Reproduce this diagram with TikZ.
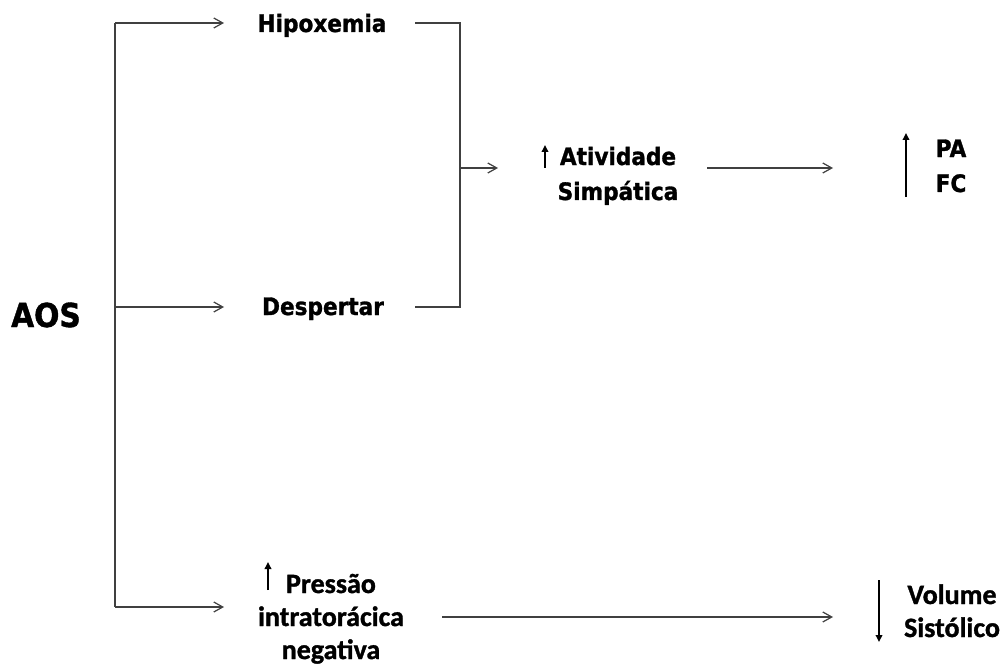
\documentclass[tikz,border=0pt]{standalone}
\usepackage{fontspec}
\setmainfont{DejaVu Sans}
\newfontfamily\topfont[FakeStretch=0.9,BoldFeatures={FakeBold=1.2}]{DejaVu Sans}
\newfontfamily\botfont[BoldFeatures={FakeBold=1.2}]{Carlito}
\usetikzlibrary{arrows.meta}
\definecolor{linegray}{HTML}{404040}
\tikzset{
  wire/.style={draw=linegray, line width=1.2pt},
  conn/.style={wire, -{Straight Barb[length=9pt,width=10pt,line width=1.2pt]}},
  glyph/.style={draw=black, line width=1.8pt, -{Triangle[length=7pt,width=6.5pt]}},
  toptext/.style={inner sep=0pt, font=\topfont\bfseries\fontsize{24}{35}\selectfont, align=center},
  bottext/.style={inner sep=0pt, font=\botfont\bfseries\fontsize{28}{33}\selectfont, align=center},
}
\begin{document}
\begin{tikzpicture}[x=1pt,y=-1pt]
\useasboundingbox (0,0) rectangle (1007,666);
% text nodes (base anchor = baseline of last line)
\node[inner sep=0pt, anchor=base, font=\topfont\bfseries\fontsize{33}{40}\selectfont] (aos) at (46,327) {AOS};
\node[toptext, anchor=base] (hip) at (322,32) {Hipoxemia};
\node[toptext, anchor=base] (desp) at (323,315) {Despertar};
\node[toptext, anchor=base] (ativ) at (618,200) {Atividade\\Simpática};
\node[toptext, anchor=base] (pafc) at (951,192) {PA\\FC};
\node[bottext, anchor=base] (press) at (331,659) {Pressão\\intratorácica\\negativa};
\node[bottext, anchor=base] (vol) at (952,637) {Volume\\Sistólico};
% spine
\coordinate (sTop) at (115,23);
\coordinate (sMid) at (115,307);
\coordinate (sBot) at (115,607);
\draw[wire] (sTop) -- (sBot);
\draw[conn] (sTop) -- (224,23) coordinate (hipIn);
\draw[conn] (sMid) -- (224,307) coordinate (despIn);
\draw[conn] (sBot) -- (224,607) coordinate (pressIn);
% merge
\coordinate (mTop) at (460,23);
\coordinate (mBot) at (460,307);
\coordinate (mMid) at (460,168);
\draw[wire] (415,23) coordinate (hipOut) -- (mTop) -- (mBot) -- (415,307) coordinate (despOut);
\draw[conn] (mMid) -- (498,168) coordinate (ativIn);
\draw[conn] (707,168) coordinate (ativOut) -- (833,168) coordinate (pafcIn);
\draw[conn] (442,617) coordinate (pressOut) -- (833,617) coordinate (volIn);
% up / down glyph arrows
\draw[glyph] (545,168) coordinate (ga1) -- (545,145) coordinate (ga2);
\draw[glyph] (906,197) coordinate (gb1) -- (906,133) coordinate (gb2);
\draw[glyph] (268,590) coordinate (gc1) -- (268,562) coordinate (gc2);
\draw[glyph] (879,580) coordinate (gd1) -- (879,642) coordinate (gd2);
\end{tikzpicture}
\end{document}
